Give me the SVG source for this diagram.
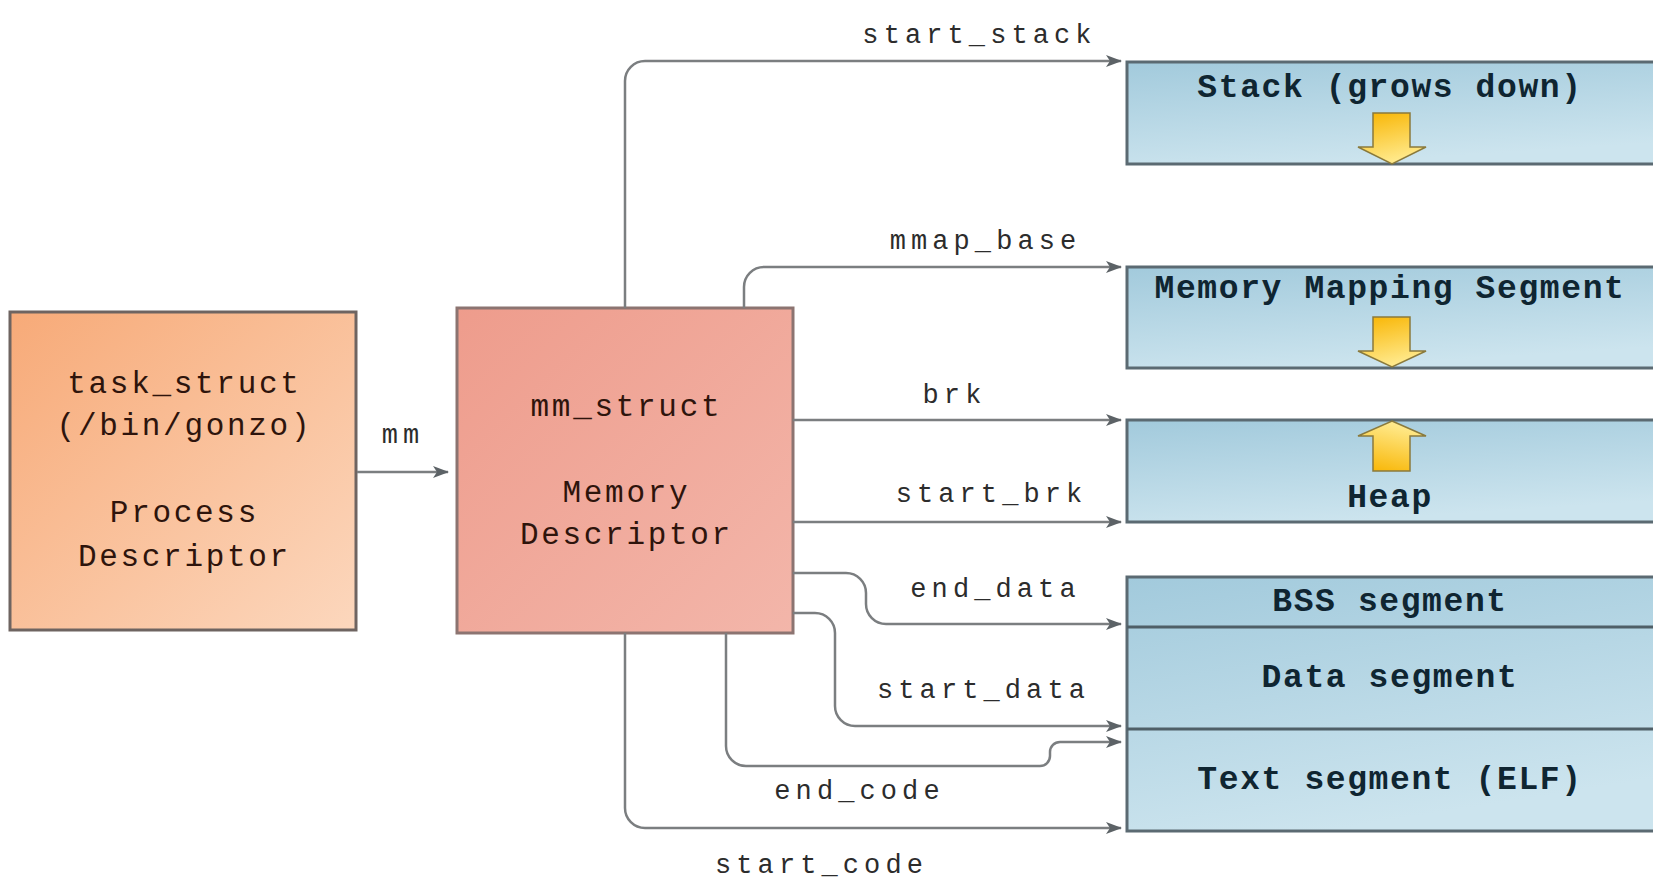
<svg xmlns="http://www.w3.org/2000/svg" width="1653" height="881" viewBox="0 0 1653 881">
  <defs>
    <linearGradient id="gOrange" x1="0" y1="0" x2="1" y2="1">
      <stop offset="0" stop-color="#f7aa78"/>
      <stop offset="1" stop-color="#fcd7bd"/>
    </linearGradient>
    <linearGradient id="gRed" x1="0" y1="0" x2="1" y2="1">
      <stop offset="0" stop-color="#ee9c8c"/>
      <stop offset="1" stop-color="#f3b6aa"/>
    </linearGradient>
    <linearGradient id="gBlue" x1="0" y1="0" x2="0.35" y2="1">
      <stop offset="0" stop-color="#a2cadc"/>
      <stop offset="1" stop-color="#cce4ee"/>
    </linearGradient>
    <linearGradient id="gDown" x1="0" y1="0" x2="0.3" y2="1">
      <stop offset="0" stop-color="#f8b400"/>
      <stop offset="1" stop-color="#ffe98a"/>
    </linearGradient>
    <linearGradient id="gUp" x1="0" y1="1" x2="0.3" y2="0">
      <stop offset="0" stop-color="#f8b400"/>
      <stop offset="1" stop-color="#ffe98a"/>
    </linearGradient>
    <marker id="arrow" viewBox="0 0 16 12" refX="15" refY="6" markerWidth="16" markerHeight="12" markerUnits="userSpaceOnUse" orient="auto">
      <path d="M0,0 L16,6 L0,12 L4,6 Z" fill="#5c6266"/>
    </marker>
  </defs>
  <style>
    .box { stroke-width: 3; }
    .seg { fill: url(#gBlue); stroke: #5b6a72; stroke-width: 3; }
    .div { stroke: #4f5f67; stroke-width: 3; }
    .grow { stroke: #8a7a3c; stroke-width: 1.5; stroke-linejoin: miter; }
    .conn { fill: none; stroke: #7b7e80; stroke-width: 2.5; marker-end: url(#arrow); }
    .lbl { font-family: "Liberation Mono", "DejaVu Sans Mono", monospace; font-size: 27px; letter-spacing: 5.1px; fill: #2c2c2c; text-anchor: middle; }
    .btxt { font-family: "Liberation Mono", "DejaVu Sans Mono", monospace; font-size: 31px; letter-spacing: 2.7px; fill: #2e140c; text-anchor: middle; }
    .stxt { font-family: "Liberation Mono", "DejaVu Sans Mono", monospace; font-size: 33px; font-weight: bold; letter-spacing: 1.6px; fill: #0f2531; text-anchor: middle; }
  </style>
  <rect x="0" y="0" width="1653" height="881" fill="#ffffff"/>

  <!-- process descriptor -->
  <g id="task_struct">
    <rect class="box" x="10" y="312" width="346" height="318" fill="url(#gOrange)" stroke="#6e6461"/>
    <text class="btxt" x="184.4" y="393">task_struct</text>
    <text class="btxt" x="184.4" y="435">(/bin/gonzo)</text>
    <text class="btxt" x="184.4" y="522">Process</text>
    <text class="btxt" x="184.4" y="566">Descriptor</text>
  </g>

  <!-- memory descriptor -->
  <g id="mm_struct">
    <rect class="box" x="457" y="308" width="336" height="325" fill="url(#gRed)" stroke="#8c7471"/>
    <text class="btxt" x="626.4" y="416">mm_struct</text>
    <text class="btxt" x="626.4" y="502">Memory</text>
    <text class="btxt" x="626.4" y="544">Descriptor</text>
  </g>

  <!-- stack -->
  <g id="stack">
    <rect class="seg" x="1127" y="62" width="560" height="102"/>
    <text class="stxt" x="1390" y="97">Stack (grows down)</text>
    <path class="grow" fill="url(#gDown)" d="M1373,113 H1410 V147 H1426 L1392,164 L1358,147 H1373 Z"/>
  </g>

  <!-- memory mapping segment -->
  <g id="mmap">
    <rect class="seg" x="1127" y="267" width="560" height="101"/>
    <text class="stxt" x="1390" y="298">Memory Mapping Segment</text>
    <path class="grow" fill="url(#gDown)" d="M1373,317 H1410 V351 H1426 L1392,367 L1358,351 H1373 Z"/>
  </g>

  <!-- heap -->
  <g id="heap">
    <rect class="seg" x="1127" y="420" width="560" height="102"/>
    <path class="grow" fill="url(#gUp)" d="M1392,421 L1426,436 H1410 V471 H1373 V436 H1358 Z"/>
    <text class="stxt" x="1390" y="507">Heap</text>
  </g>

  <!-- bss / data / text -->
  <g id="segments">
    <rect class="seg" x="1127" y="577" width="560" height="254"/>
    <line class="div" x1="1127" y1="627" x2="1653" y2="627"/>
    <line class="div" x1="1127" y1="729" x2="1653" y2="729"/>
    <text class="stxt" x="1390" y="611">BSS segment</text>
    <text class="stxt" x="1390" y="687">Data segment</text>
    <text class="stxt" x="1390" y="789">Text segment (ELF)</text>
  </g>

  <!-- pointers -->
  <g id="connectors">
    <path class="conn" d="M357,472 H448"/>
    <path class="conn" d="M625,308 V81 A20,20 0 0 1 645,61 H1121"/>
    <path class="conn" d="M744,308 V287 A20,20 0 0 1 764,267 H1121"/>
    <path class="conn" d="M793,420 H1121"/>
    <path class="conn" d="M793,522 H1121"/>
    <path class="conn" d="M793,573 H846 A20,20 0 0 1 866,593 V604 A20,20 0 0 0 886,624 H1121"/>
    <path class="conn" d="M793,613 H815 A20,20 0 0 1 835,633 V706 A20,20 0 0 0 855,726 H1121"/>
    <path class="conn" d="M726,633 V746 A20,20 0 0 0 746,766 H1040 A10,10 0 0 0 1050,756 V752 A10,10 0 0 1 1060,742 H1121"/>
    <path class="conn" d="M625,633 V808 A20,20 0 0 0 645,828 H1121"/>

    <text class="lbl" x="403" y="443">mm</text>
    <text class="lbl" x="979.5" y="43">start_stack</text>
    <text class="lbl" x="985.5" y="249">mmap_base</text>
    <text class="lbl" x="954.5" y="403">brk</text>
    <text class="lbl" x="991.5" y="502">start_brk</text>
    <text class="lbl" x="995.5" y="597">end_data</text>
    <text class="lbl" x="983.5" y="698">start_data</text>
    <text class="lbl" x="859.5" y="799">end_code</text>
    <text class="lbl" x="821.5" y="873">start_code</text>
  </g>
</svg>
